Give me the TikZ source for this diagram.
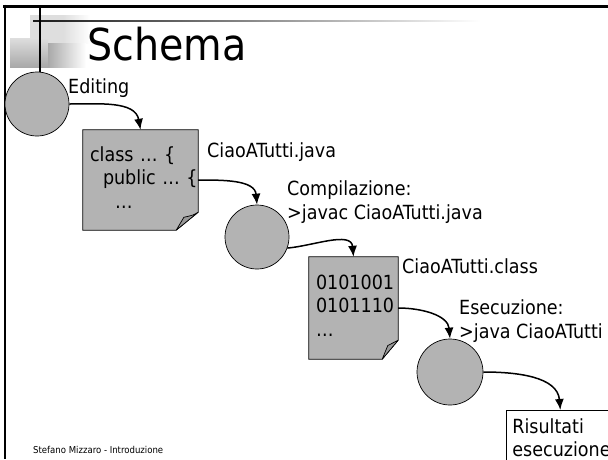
\documentclass[tikz,border=0pt]{standalone}
\usepackage{fontspec}
\setmainfont{DejaVu Sans Condensed}
\usetikzlibrary{arrows.meta,calc,backgrounds}
\definecolor{shapegray}{HTML}{B3B3B3}
\definecolor{squarelight}{HTML}{DEDEDE}
\definecolor{squaremid}{HTML}{A9A9A9}
\newcommand{\slidefont}{\fontsize{19.5}{23.5}\selectfont}

\tikzset{
    stepcircle/.style={circle, draw=black, line width=0.7pt, fill=shapegray, minimum size=64pt, inner sep=0},
    docpage/.style={rectangle, inner ysep=0, inner xsep=7pt, text depth=52pt, align=left, font=\slidefont},
    doctext/.style={anchor=base west, inner sep=0, align=left, font=\slidefont},
    flow/.style={-{Latex[length=11pt,width=9pt]}, line width=1.5pt},
}

\begin{document}
\begin{tikzpicture}[x=1pt, y=-1pt]
    \useasboundingbox (0,0) rectangle (608,459);
    \clip (0,0) rectangle (608,459);

    % slide decoration
    \fill[squarelight] (30,15) rectangle (63,43);
    \shade[left color=squarelight, right color=white] (63,15) rectangle (90,43);
    \shade[top color=squarelight, bottom color=squaremid] (10,38) rectangle (48,67);
    \shade[left color=squaremid, right color=white] (48,43) rectangle (86,67);
    \shade[left color=black!90, right color=white] (33,20.2) rectangle (480,21.8);
    \draw[line width=1.3pt] (40,6) -- (40,72);
    \draw[line width=3pt] (3,6) -- (608,6);
    \draw[line width=2.5pt] (5,4.5) -- (5,459);

    \node[anchor=base west, inner sep=0, font=\fontsize{44}{48}\selectfont] (title) at (87,60) {Schema};

    % steps
    \node[stepcircle] (edit) at (37,104) {};
    \node[docpage, minimum width=115pt, minimum height=100pt, text width=101pt] (src) at (140.5,180)
        {\mbox{class … \{}\\\mbox{\hspace*{13pt}public … \{}\\\hspace*{25pt}…};
    \node[stepcircle] (javac) at (257,237) {};
    \node[docpage, minimum width=89pt, minimum height=102pt, text width=75pt, inner xsep=7pt] (bin) at (353.5,308)
        {0101001\\0101110\\…};
    \node[stepcircle, minimum size=66pt] (run) at (450,372) {};
    \node[rectangle, draw=black, line width=0.7pt, anchor=north west, minimum width=108pt, text width=96pt,
          inner xsep=6pt, inner ysep=8pt, align=left, font=\slidefont] (out) at (506,410) {Risultati\\esecuzione};

    \begin{pgfonlayer}{background}
        \foreach \d/\h/\w in {src/18/22, bin/19/16} {
            \draw[fill=shapegray, line width=0.7pt] (\d.north west) -- (\d.north east)
                -- ($(\d.south east)+(0,-\h)$) -- ($(\d.south east)+(-\w,0)$) -- (\d.south west) -- cycle;
            \draw[fill=shapegray!85!black, line width=0.7pt, line join=round] ($(\d.south east)+(0,-\h)$)
                .. controls ($(\d.south east)+(-5,-\h+3)$) .. ($(\d.south east)+(-\w*0.65,-\h*0.72)$)
                -- ($(\d.south east)+(-\w,0)$) -- cycle;
        }
    \end{pgfonlayer}

    % labels (multi-line ones sit on their last line)
    \node[doctext] (editlbl) at (68,93) {Editing};
    \node[doctext] (srclbl) at (207,157) {CiaoATutti.java};
    \node[doctext] (javaclbl) at (287,219) {Compilazione:\\>javac CiaoATutti.java};
    \node[doctext] (binlbl) at (402,273) {CiaoATutti.class};
    \node[doctext] (runlbl) at (459,338) {Esecuzione:\\>java CiaoATutti};

    % connectors
    \draw[flow] (edit.east) to[out=0, in=100] (src.north);
    \draw[flow] (src.east) to[out=0, in=95] (javac.north);
    \draw[flow] (javac.-20) to[out=5, in=95] (bin.north);
    \draw[flow] (bin.east) to[out=0, in=95] (run.north);
    \draw[flow] (run.east) to[out=0, in=95] (out.north);

    \node[anchor=base west, inner sep=0, font=\fontsize{9.5}{11}\selectfont] (footer) at (33,453) {Stefano Mizzaro - Introduzione};
\end{tikzpicture}
\end{document}
